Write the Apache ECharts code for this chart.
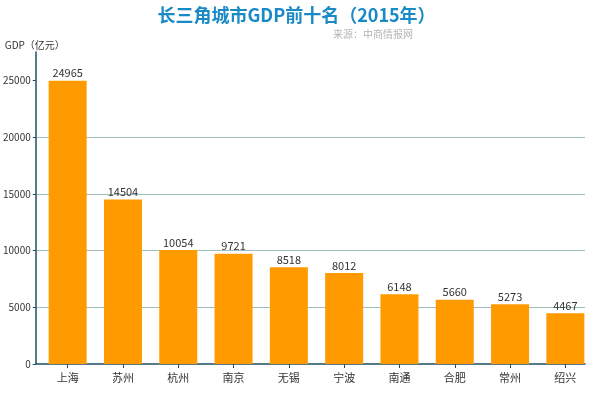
<!DOCTYPE html>
<html><head><meta charset="utf-8">
<script src="https://cdn.jsdelivr.net/npm/echarts@6/dist/echarts.min.js"></script>
<style>html,body{margin:0;padding:0;background:#fff}#c{width:593px;height:393px}</style>
</head><body><div id="c"></div>
<script>
const cities = ['上海','苏州','杭州','南京','无锡','宁波','南通','合肥','常州','绍兴'];
const gdp = [24965,14504,10054,9721,8518,8012,6148,5660,5273,4467];
const yTicks = [0,5000,10000,15000,20000,25000];
const yMax = 27500;

const chart = echarts.init(document.getElementById('c'));
const font = '"Microsoft YaHei","Noto Sans CJK SC",sans-serif';
chart.setOption({
  animation:false,
  backgroundColor:'#fff',
  title:[
    {text:'长三角城市GDP前十名（2015年）',left:'center',top:1,
     textStyle:{color:'#1a8ac6',fontSize:18,fontWeight:'bold',fontFamily:font}},
    {text:'来源：中商情报网',left:328,top:24,
     textStyle:{color:'#b4b4b4',fontSize:10,fontWeight:'normal',fontFamily:font}}
  ],
  grid:[
    {left:31,right:8,top:52,bottom:29},
    {left:40,right:0,top:52,bottom:29}
  ],
  xAxis:[
    {type:'category',gridIndex:0,data:cities,
     axisLine:{lineStyle:{color:'#1f4f68',width:1.5}},
     axisTick:{show:false},axisLabel:{show:false}},
    {type:'category',gridIndex:1,data:cities,
     axisLine:{show:false},
     axisTick:{show:true,alignWithLabel:true,length:4,lineStyle:{color:'#1f4f68'}},
     axisLabel:{color:'#333',fontSize:11,margin:8,fontFamily:font}}
  ],
  yAxis:[
    {type:'value',gridIndex:0,min:0,max:yMax,interval:5000,
     name:'GDP（亿元）',nameLocation:'end',nameGap:2,
     nameTextStyle:{color:'#333',fontSize:10,fontFamily:font,align:'left',padding:[0,0,0,-31]},
     axisLine:{show:true,lineStyle:{color:'#1f4f68',width:1.5}},
     axisTick:{show:true,length:3,customValues:yTicks,lineStyle:{color:'#1f4f68'}},
     axisLabel:{color:'#333',fontSize:10,margin:5,customValues:yTicks,fontFamily:font,
       formatter:function(v){return String(v);}},
     splitLine:{show:true,showMinLine:false,showMaxLine:false,lineStyle:{color:'#9fbfbf',width:1.2}}},
    {type:'value',gridIndex:1,min:0,max:yMax,show:false}
  ],
  series:[{
    type:'bar',xAxisIndex:1,yAxisIndex:1,data:gdp,barWidth:38,
    itemStyle:{color:'#ff9a00'},
    label:{show:true,position:'top',distance:2,color:'#333',fontSize:11,fontFamily:font}
  }]
});
</script></body></html>
